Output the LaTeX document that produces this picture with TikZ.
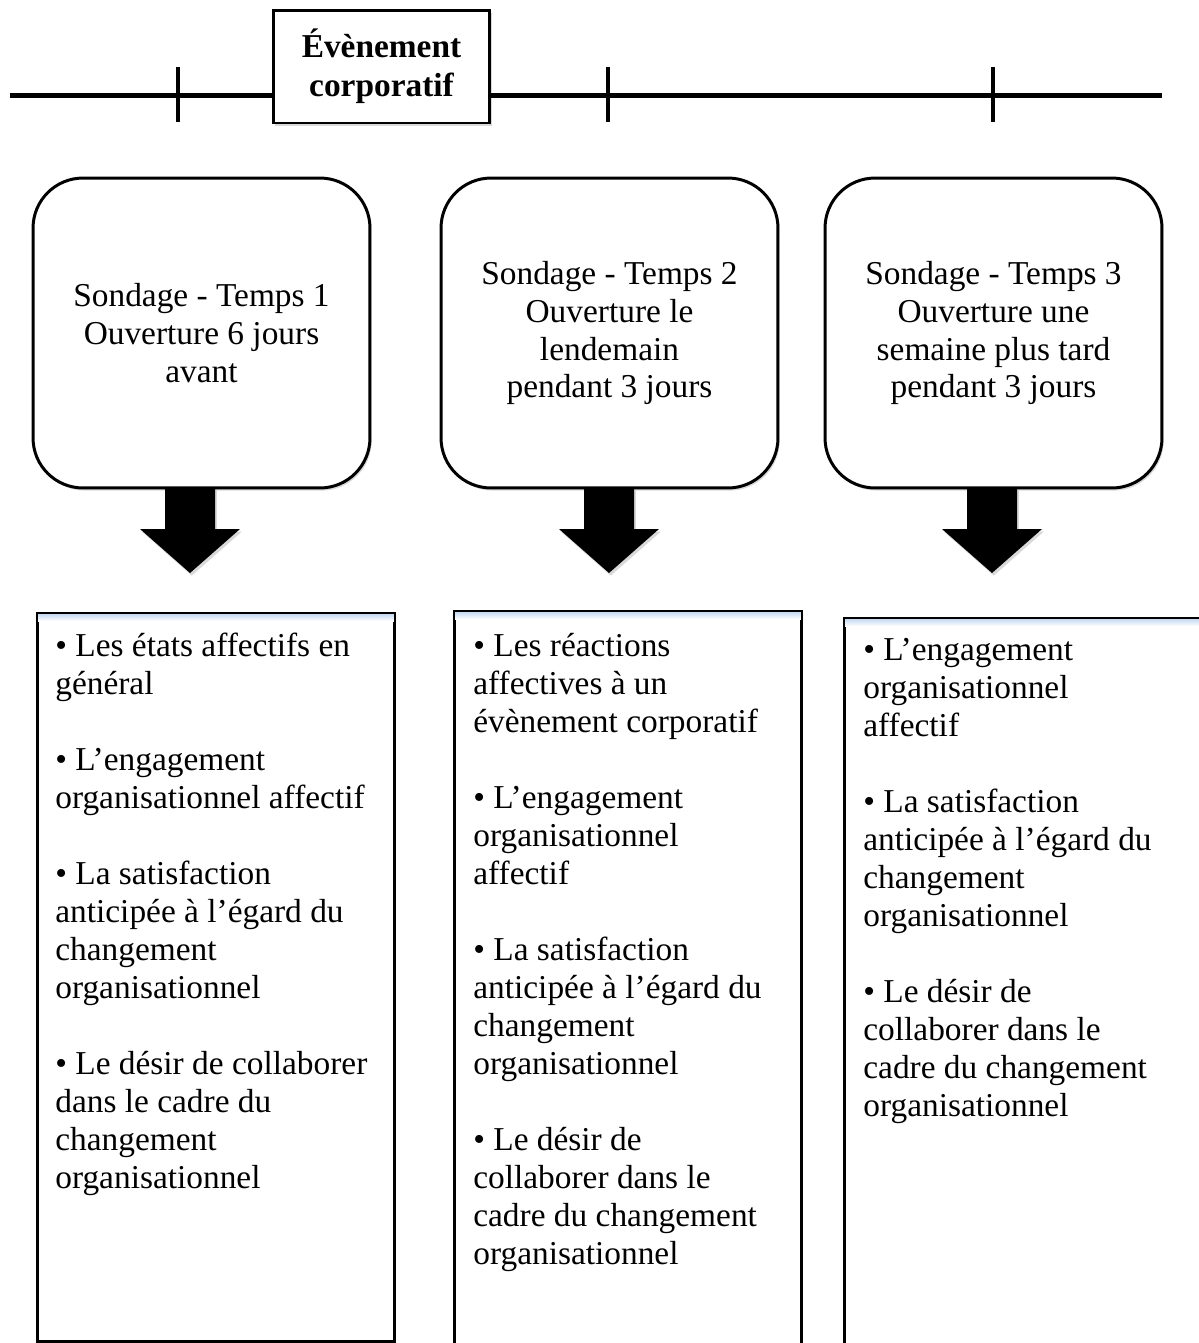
\documentclass[tikz,border=0pt]{standalone}
\usepackage{fontspec}
\setmainfont{Liberation Serif}
\usetikzlibrary{calc,shadows}
\definecolor{stripblue}{RGB}{198,217,241}
\tikzset{
	softshadow/.style={drop shadow={opacity=0.25,shadow xshift=1pt,shadow yshift=-1.5pt,fill=black!60}},
	survey/.style={draw,line width=1.7pt,rounded corners=1cm,fill=white,softshadow,minimum width=6.74cm,minimum height=6.2cm,align=center,inner sep=0pt},
	eventbox/.style={draw,line width=1.7pt,fill=white,softshadow,minimum width=4.34cm,minimum height=2.26cm,align=center,font=\fontsize{19pt}{22pt}\selectfont\bfseries,inner sep=0pt},
	itembox/.style={draw,line width=1.7pt,fill=white,softshadow,anchor=north west,inner sep=0pt},
	itemtext/.style={anchor=north west,align=left,inner sep=0pt},
	timeline/.style={line width=2.85pt},
	tick/.style={line width=2.3pt}
}
\begin{document}
\begin{tikzpicture}[x=0.02cm,y=-0.02cm,font=\fontsize{19pt}{21.6pt}\selectfont]
	\clip (0,0) rectangle (1199,1343); %page
	
	%timeline
	\coordinate (tstart) at (10,95);
	\coordinate (tend) at (1162,95);
	\node[eventbox] (ev) at (381.5,66.5) {Évènement\\corporatif}; %event box
	\draw[timeline] (tstart) -- (ev.west |- tstart); %line left of event
	\draw[timeline] (ev.east |- tend) -- (tend); %line right of event
	\foreach \x [count=\i] in {178,608,993}{
		\coordinate (up\i) at (\x,67);
		\coordinate (dn\i) at (\x,122);
		\draw[tick] (up\i) -- (dn\i); %tick \i
	}
	
	%surveys
	\node[survey] (t1) at (201.5,333) {Sondage - Temps 1\\Ouverture 6 jours\\avant}; %time 1
	\node[survey] (t2) at (609.5,333) {Sondage - Temps 2\\Ouverture le\\lendemain\\pendant 3 jours}; %time 2
	\node[survey] (t3) at (993.5,333) {Sondage - Temps 3\\Ouverture une\\semaine plus tard\\pendant 3 jours}; %time 3
	
	%block arrows
	\foreach \x [count=\i] in {190,609,992}{
		\coordinate (a\i) at (\x,488);
		\fill[softshadow] (a\i) ++(-25,0) -- ++(0,41) -- ++(-25,0) -- ++(50,44) -- ++(50,-44) -- ++(-25,0) -- ++(0,-41) -- cycle; %arrow \i
	}
	
	%measured variables
	\node[itembox,minimum width=7.14cm,minimum height=14.56cm] (i1) at (36,612) {}; %box 1
	\node[itembox,minimum width=6.94cm,minimum height=15.2cm] (i2) at (453,610) {}; %box 2
	\node[itembox,minimum width=7.24cm,minimum height=15.2cm] (i3) at (843,617) {}; %box 3
	\foreach \b in {i1,i2,i3}{
		\shade[top color=stripblue,bottom color=white] ($(\b.north west)+(2,2)$) rectangle ($(\b.north east)+(-2,9)$); %blue strip
	}
	\node[itemtext] (l1) at ($(i1.north west)+(19,18)$) {\strut• Les états affectifs en\\général\\[21.6pt]
		• L’engagement\\organisationnel affectif\\[21.6pt]
		• La satisfaction\\anticipée à l’égard du\\changement\\organisationnel\\[21.6pt]
		• Le désir de collaborer\\dans le cadre du\\changement\\organisationnel}; %list 1
	\node[itemtext] (l2) at ($(i2.north west)+(20,20)$) {\strut• Les réactions\\affectives à un\\évènement corporatif\\[21.6pt]
		• L’engagement\\organisationnel\\affectif\\[21.6pt]
		• La satisfaction\\anticipée à l’égard du\\changement\\organisationnel\\[21.6pt]
		• Le désir de\\collaborer dans le\\cadre du changement\\organisationnel}; %list 2
	\node[itemtext] (l3) at ($(i3.north west)+(20,17)$) {\strut• L’engagement\\organisationnel\\affectif\\[21.6pt]
		• La satisfaction\\anticipée à l’égard du\\changement\\organisationnel\\[21.6pt]
		• Le désir de\\collaborer dans le\\cadre du changement\\organisationnel}; %list 3
\end{tikzpicture}
\end{document}
